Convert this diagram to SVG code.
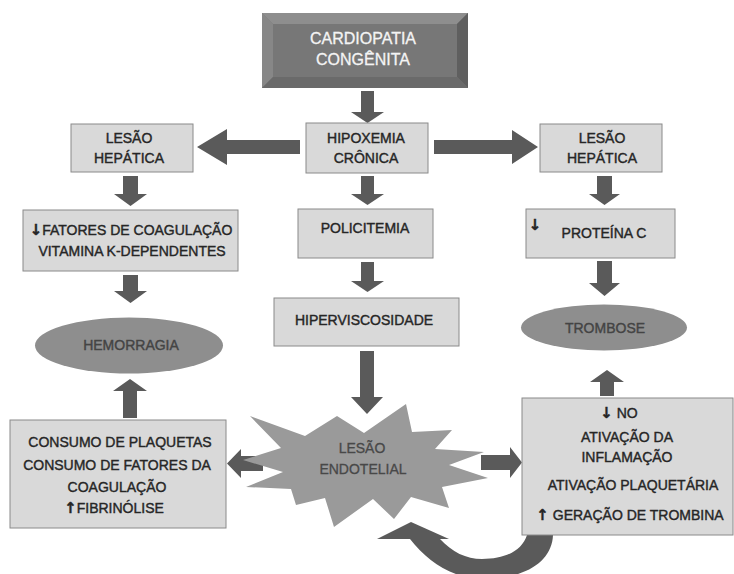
<svg xmlns="http://www.w3.org/2000/svg" width="734" height="574" viewBox="0 0 734 574">
<style>
.box{fill:#d9d9d9;stroke:#8a8a8a;stroke-width:1}
.arr{fill:#5a5a5a}
.ell{fill:#8e8e8e}
.star{fill:#9a9a9a}
text{font-family:"Liberation Sans",Arial,sans-serif;font-size:14px;fill:#262626;stroke:#262626;stroke-width:0.4;text-anchor:middle}
.title{fill:#f4f4f4;stroke:#f4f4f4;stroke-width:0.3;font-size:16px}
.soft{fill:#444444;stroke:#444444}
.endo{fill:#484848;stroke:#484848;stroke-width:0.3}
.sym{font-family:"DejaVu Sans",sans-serif;font-size:15px;font-weight:bold}
</style>
<rect width="734" height="574" fill="#ffffff"/>

<g id="connectors">
<polygon class="arr" points="361,91 374,91 374,112 384,112 367.5,123 351,112 361,112"/>
<polygon class="arr" points="300,140 227,140 227,129 197,147 227,165 227,154 300,154"/>
<polygon class="arr" points="434,140 512,140 512,130 538,147 512,164 512,154 434,154"/>
<polygon class="arr" points="123,176 138,176 138,194 147,194 130.5,206 114,194 123,194"/>
<polygon class="arr" points="361,176 374,176 374,194 384,194 367.5,205 351,194 361,194"/>
<polygon class="arr" points="597,176 612,176 612,194 620,194 604.5,205 589,194 597,194"/>
<polygon class="arr" points="123,275 138,275 138,291 147,291 130.5,303 114,291 123,291"/>
<polygon class="arr" points="361,262 374,262 374,281 384,281 367.5,292 351,281 361,281"/>
<polygon class="arr" points="597,261 612,261 612,283 620,283 604.5,296 589,283 597,283"/>
<polygon class="arr" points="360,351 374,351 374,397 383,397 367,414 351,397 360,397"/>
<polygon class="arr" points="263,456 241,456 241,449 227,463.5 241,478 241,471 263,471"/>
<polygon class="arr" points="481,455 510,455 510,447 522,462.5 510,478 510,470 481,470"/>
<polygon class="arr" points="123,418 137,418 137,391 147,391 130,379 113,391 123,391"/>
<polygon class="arr" points="600,396 614,396 614,382 624,382 607,370 590,382 600,382"/>
<path class="arr" d="M527,535 L553,535 C552,562 525,579 482,579 C452,578 428,562 410,539 L440,539 C452,552 466,559 482,559 C505,559 522,551 527,535 Z"/>
<polygon class="arr" points="377,539 411,522 449,539"/>
</g>

<g id="n-cardiopatia">
<rect x="262" y="13" width="206" height="75" fill="#777777"/>
<polygon points="262,13 468,13 457,24 273,24" fill="#8e8e8e"/>
<polygon points="262,13 273,24 273,77 262,88" fill="#878787"/>
<polygon points="468,13 468,88 457,77 457,24" fill="#5f5f5f"/>
<polygon points="262,88 468,88 457,77 273,77" fill="#6a6a6a"/>
<text class="title" x="363" y="44">CARDIOPATIA</text>
<text class="title" x="363" y="65">CONGÊNITA</text>
</g>

<g id="n-hipoxemia">
<rect class="box" x="306" y="123" width="122" height="50"/>
<text x="366" y="143">HIPOXEMIA</text>
<text x="366" y="163">CRÔNICA</text>
</g>

<g id="n-lesao-hep-esq">
<rect class="box" x="71" y="124" width="122" height="48"/>
<text x="129" y="143">LESÃO</text>
<text x="129" y="163">HEPÁTICA</text>
</g>

<g id="n-lesao-hep-dir">
<rect class="box" x="540" y="124" width="122" height="48"/>
<text x="602" y="143">LESÃO</text>
<text x="602" y="163">HEPÁTICA</text>
</g>

<g id="n-fatores">
<rect class="box" x="23" y="210" width="215" height="61"/>
<text x="131" y="235"><tspan class="sym">↓</tspan>FATORES DE COAGULAÇÃO</text>
<text x="132" y="256">VITAMINA K-DEPENDENTES</text>
</g>

<g id="n-policitemia">
<rect class="box" x="298" y="209" width="135" height="49"/>
<text x="365" y="233">POLICITEMIA</text>
</g>

<g id="n-proteina">
<rect class="box" x="526" y="209" width="149" height="49"/>
<text class="sym" x="535" y="230">↓</text>
<text x="604" y="238">PROTEÍNA C</text>
</g>

<g id="n-hiperviscosidade">
<rect class="box" x="274" y="298" width="185" height="48"/>
<text x="364" y="325">HIPERVISCOSIDADE</text>
</g>

<g id="n-hemorragia">
<ellipse class="ell" cx="129" cy="345.5" rx="94" ry="28"/>
<text class="soft" x="131" y="350">HEMORRAGIA</text>
</g>

<g id="n-trombose">
<ellipse class="ell" cx="604" cy="327.5" rx="83" ry="23"/>
<text class="soft" x="605" y="333">TROMBOSE</text>
</g>

<g id="n-lesao-endotelial">
<polygon class="star" points="250,416 305,436 337,416 364,433 406,404 412,432 452,430 435,449 484,452 449,465 488,478 442,487 449,508 411,497 394,519 373,499 334,527 325,498 296,505 291,489 246,487 283,472 243,460 281,448"/>
<text class="endo" x="362" y="453">LESÃO</text>
<text class="endo" x="363" y="474">ENDOTELIAL</text>
</g>

<g id="n-consumo">
<rect class="box" x="10" y="420" width="216" height="108"/>
<text x="120" y="447">CONSUMO DE PLAQUETAS</text>
<text x="117" y="470">CONSUMO DE FATORES DA</text>
<text x="117" y="492">COAGULAÇÃO</text>
<text x="114" y="513"><tspan class="sym">↑</tspan>FIBRINÓLISE</text>
</g>

<g id="n-ativacao">
<rect class="box" x="522" y="398" width="211" height="137"/>
<text x="619" y="418"><tspan class="sym">↓</tspan> NO</text>
<text x="627" y="442">ATIVAÇÃO DA</text>
<text x="627" y="462">INFLAMAÇÃO</text>
<text x="633" y="490">ATIVAÇÃO PLAQUETÁRIA</text>
<text x="630" y="520"><tspan class="sym">↑</tspan> GERAÇÃO DE TROMBINA</text>
</g>
</svg>
